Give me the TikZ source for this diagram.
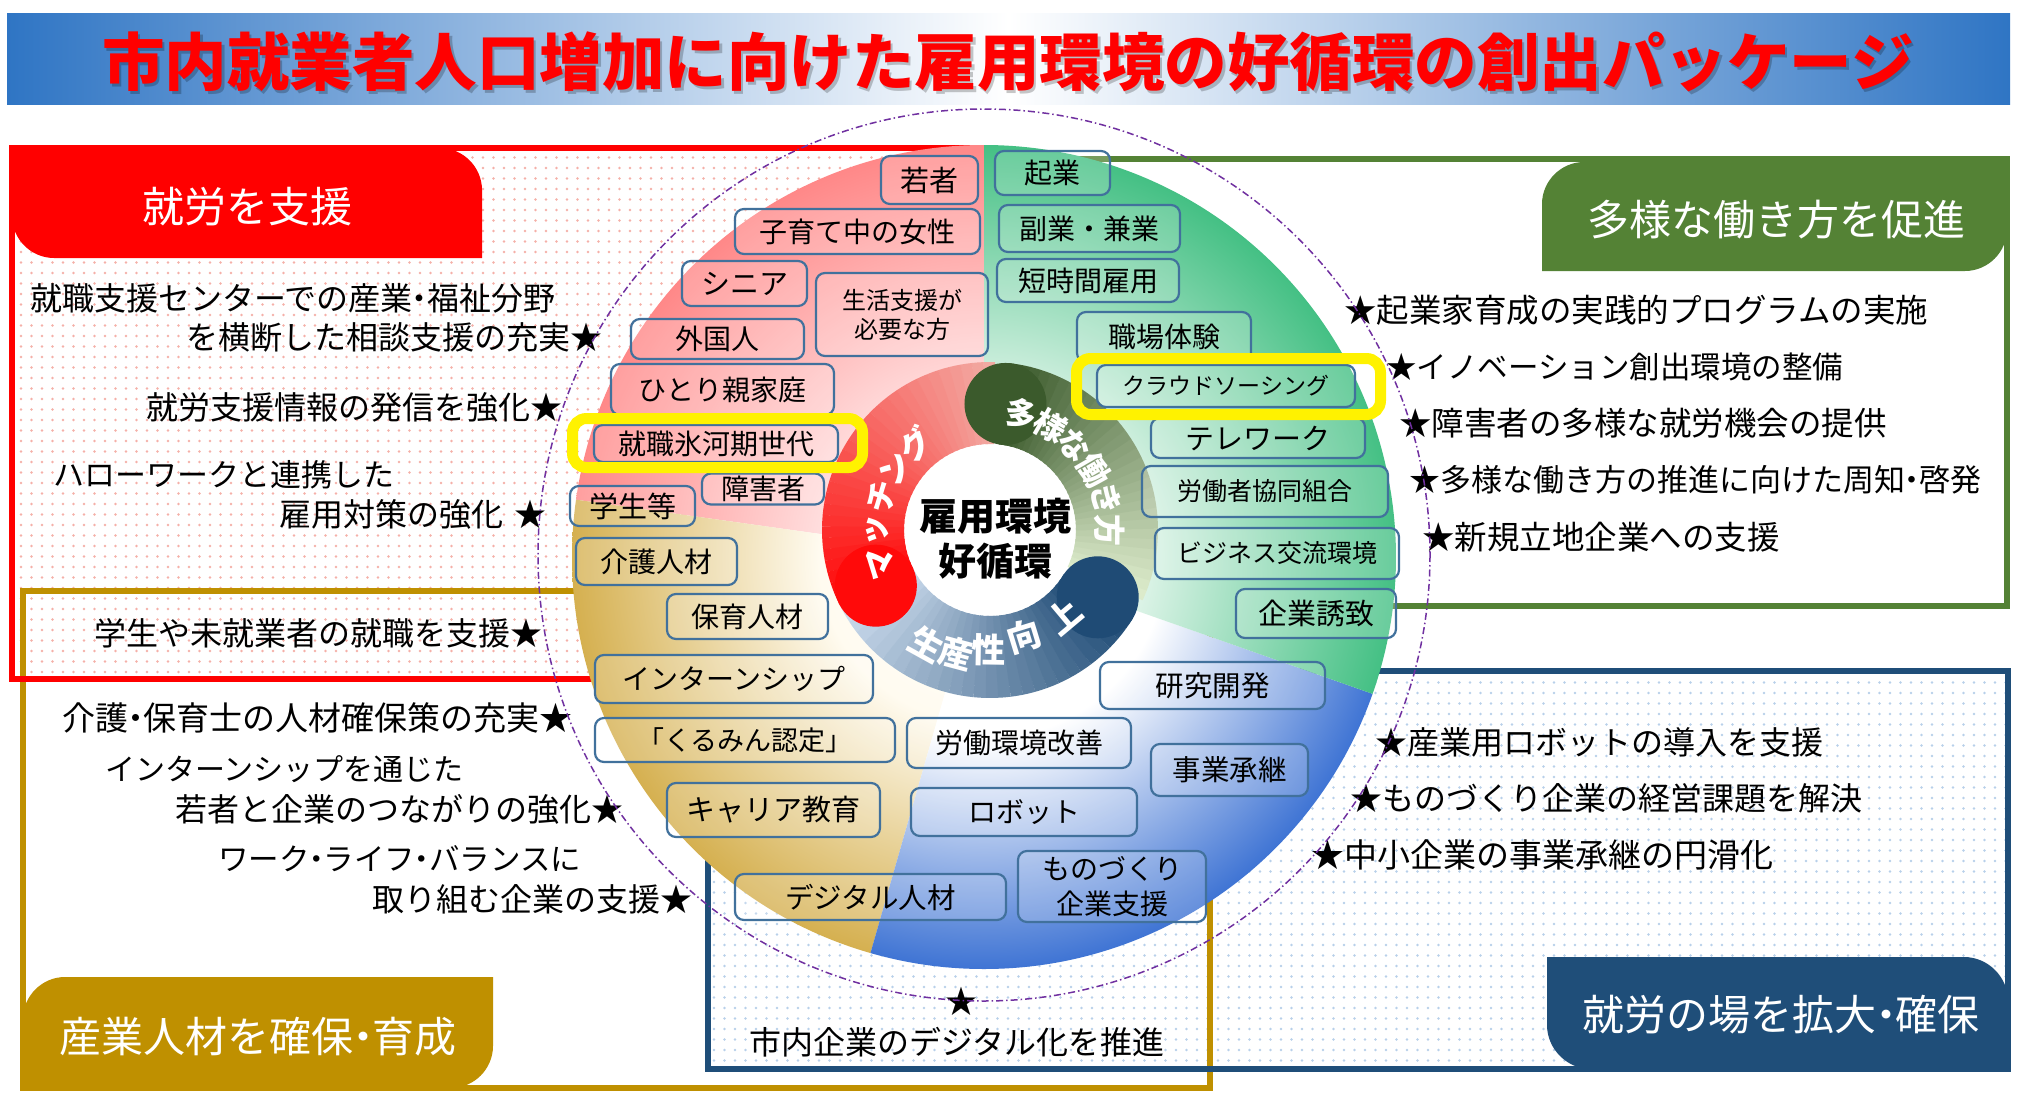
\documentclass[tikz,border=0pt]{standalone}
\usepackage{fontspec}
\setmainfont{Noto Sans CJK JP}
\usetikzlibrary{calc,patterns.meta}
\definecolor{cRed}{HTML}{FF0000}
\definecolor{cGold}{HTML}{BF9000}
\definecolor{cGreen}{HTML}{548235}
\definecolor{cBlue}{HTML}{1F4E79}
\definecolor{cTitle}{HTML}{2F75C4}
\definecolor{cBox}{HTML}{41719C}
\definecolor{cPurple}{HTML}{7030A0}
\definecolor{dotPink}{HTML}{F5B0A8}
\definecolor{dotBlue}{HTML}{B8D0EA}
\definecolor{pinkIn}{HTML}{FFE4E4}
\definecolor{pinkOut}{HTML}{FF8888}
\definecolor{goldIn}{HTML}{FFFBF0}
\definecolor{goldOut}{HTML}{D5B050}
\definecolor{blueOut}{HTML}{3F74D4}
\definecolor{greenIn}{HTML}{E4F6EC}
\definecolor{greenOut}{HTML}{44C084}
\definecolor{redTail}{HTML}{F2A9A2}
\definecolor{redHead}{HTML}{FF0A0A}
\definecolor{greenTail}{HTML}{DCEBCB}
\definecolor{greenHead}{HTML}{3B5A2C}
\definecolor{blueTail}{HTML}{D5E3F3}
\definecolor{blueHead}{HTML}{1F4B75}
\pgfdeclareradialshading{pinkrad}{\pgfpoint{0bp}{0bp}}{color(0bp)=(white); color(9bp)=(pinkIn); color(25bp)=(pinkOut); color(50bp)=(pinkOut)}
\pgfdeclareradialshading{goldrad}{\pgfpoint{0bp}{0bp}}{color(0bp)=(white); color(10bp)=(goldIn); color(25bp)=(goldOut); color(50bp)=(goldOut)}
\pgfdeclareradialshading{bluerad}{\pgfpoint{0bp}{0bp}}{color(0bp)=(white); color(11bp)=(white); color(25bp)=(blueOut); color(50bp)=(blueOut)}
\pgfdeclareradialshading{greenrad}{\pgfpoint{0bp}{0bp}}{color(0bp)=(white); color(9bp)=(greenIn); color(25bp)=(greenOut); color(50bp)=(greenOut)}
\tikzdeclarepattern{
  name=pdots,
  type=uncolored,
  bounding box={(-1.5pt,-1.5pt) and (1.5pt,1.5pt)},
  tile size={(10.5pt,10.5pt)},
  code={\fill (0pt,0pt) circle [radius=1.3pt];}
}
\newcommand\nd{\kern-0.27em・\kern-0.27em}
\newcommand\gradarc[5]{%
  \foreach \i in {1,...,#5}{%
    \pgfmathsetmacro\aa{#1+(\i-1)*(#2-#1)/#5}%
    \pgfmathsetmacro\bb{#1+\i*(#2-#1)/#5+0.6}%
    \pgfmathtruncatemacro\mixv{100*(\i-1)/(#5-1)}%
    \draw[line width=82pt, color=#4!\mixv!#3] ($(O)+(-\aa:127)$) arc[start angle=-\aa, end angle=-\bb, radius=127];
  }}
\newcommand\bxnode[7]{\node[bx, minimum width=#4pt, minimum height=#5pt, font=\fontsize{#6}{#6}\selectfont] (#1) at (#2,#3) {#7};}
\begin{document}
\begin{tikzpicture}[x=1pt,y=-1pt,
  bx/.style={draw=cBox, line width=2.2pt, rounded corners=9pt, fill=white, fill opacity=0.2, text opacity=1, inner sep=0pt},
  ftxt/.style={inner sep=0pt, text=black},
  tabtxt/.style={inner sep=0pt, text=white},
  ringtxt/.style={inner sep=0pt, text=white, font=\fontsize{32}{36}\bfseries},
  frm/.style={line width=6pt, line join=miter},
  hl/.style={draw=yellow, line width=11pt, rounded corners=14pt}
]
\useasboundingbox (0,0) rectangle (2018,1092);
\fill[white] (0,0) rectangle (2018,1092);

% title
\shade[left color=cTitle, right color=cTitle, middle color=white] (7,13) rectangle (2010,104);
\node[font=\fontsize{62.5}{70}\bfseries, text=black, opacity=0.22, inner sep=0pt] (titleshadow) at (1010.5,64.5) {市内就業者人口増加に向けた雇用環境の好循環の創出パッケージ};
\node[font=\fontsize{62.5}{70}\bfseries, text=cRed, inner sep=0pt] (title) at (1008,62) {市内就業者人口増加に向けた雇用環境の好循環の創出パッケージ};

% frame fills
\fill[pattern=pdots, pattern color=dotPink] (12,148) rectangle (975,679);
\fill[pattern=pdots, pattern color=dotBlue] (708,671) rectangle (2008,1069);

% frame borders
\draw[cGold, frm] (23,591) rectangle (1210,1088);
\draw[cRed, frm] (12,148) rectangle (975,679);
\draw[cGreen, frm] (1000,159) rectangle (2007,606);
\draw[cBlue, frm] (708,671) rectangle (2008,1069);

% tabs
\fill[cRed] (12,148) -- (440,148) .. controls (463,148) and (482,167) .. (482,190) -- (482,258) -- (54,258) .. controls (31,258) and (12,239) .. (12,216) -- cycle;
\node[tabtxt, font=\fontsize{42}{46}\selectfont] (tabred) at (247,207) {就労を支援};
\fill[cGold] (23,1019) .. controls (23,996) and (42,977) .. (65,977) -- (493,977) -- (493,1046) .. controls (493,1069) and (474,1088) .. (451,1088) -- (23,1088) -- cycle;
\node[tabtxt, font=\fontsize{42}{46}\selectfont] (tabgold) at (258,1037) {産業人材を確保\nd 育成};
\fill[cGreen] (1542,204) .. controls (1542,181) and (1561,162) .. (1584,162) -- (2007,162) -- (2007,229) .. controls (2007,252) and (1988,271) .. (1965,271) -- (1542,271) -- cycle;
\node[tabtxt, font=\fontsize{42}{46}\selectfont] (tabgreen) at (1776,220) {多様な働き方を促進};
\fill[cBlue] (1547,957) -- (1964,957) .. controls (1988,957) and (2008,977) .. (2008,1001) -- (2008,1069) -- (1591,1069) .. controls (1567,1069) and (1547,1049) .. (1547,1025) -- cycle;
\node[tabtxt, font=\fontsize{42}{46}\selectfont] (tabblue) at (1781,1015) {就労の場を拡大\nd 確保};

% left texts
\node[ftxt, anchor=west, font=\fontsize{32}{34}\selectfont] (l1) at (30,298) {就職支援センターでの産業\nd 福祉分野};
\node[ftxt, anchor=east, font=\fontsize{32}{34}\selectfont] (l2) at (603,337) {を横断した相談支援の充実★};
\node[ftxt, anchor=east, font=\fontsize{32}{34}\selectfont] (l3) at (563,407) {就労支援情報の発信を強化★};
\node[ftxt, anchor=west, font=\fontsize{31}{34}\selectfont] (l4) at (53,475) {ハローワークと連携した};
\node[ftxt, anchor=east, font=\fontsize{32}{34}\selectfont] (l5) at (547,514) {雇用対策の強化 \hspace{4pt}★};
\node[ftxt, anchor=west, font=\fontsize{32}{34}\selectfont] (l6) at (94,633) {学生や未就業者の就職を支援★};
\node[ftxt, anchor=west, font=\fontsize{33}{34}\selectfont] (l7) at (62,718) {介護\nd 保育士の人材確保策の充実★};
\node[ftxt, anchor=west, font=\fontsize{30}{34}\selectfont] (l8) at (105,769) {インターンシップを通じた};
\node[ftxt, anchor=east, font=\fontsize{32}{34}\selectfont] (l9) at (624,809) {若者と企業のつながりの強化★};
\node[ftxt, anchor=west, font=\fontsize{30.5}{34}\selectfont] (l10) at (218,859) {ワーク\nd ライフ\nd バランスに};
\node[ftxt, anchor=east, font=\fontsize{32}{34}\selectfont] (l11) at (693,899) {取り組む企業の支援★};

% right texts
\node[ftxt, anchor=west, font=\fontsize{32.5}{34}\selectfont] (r1) at (1344,310) {★起業家育成の実践的プログラムの実施};
\node[ftxt, anchor=west, font=\fontsize{30.5}{34}\selectfont] (r2) at (1386,367) {★イノベーション創出環境の整備};
\node[ftxt, anchor=west, font=\fontsize{32.5}{34}\selectfont] (r3) at (1399,423) {★障害者の多様な就労機会の提供};
\node[ftxt, anchor=west, font=\fontsize{31}{34}\selectfont] (r4) at (1409,480) {★多様な働き方の推進に向けた周知\nd 啓発};
\node[ftxt, anchor=west, font=\fontsize{32.5}{34}\selectfont] (r5) at (1422,537) {★新規立地企業への支援};

% blue frame texts
\node[ftxt, anchor=west, font=\fontsize{32}{34}\selectfont] (b1) at (1375,742) {★産業用ロボットの導入を支援};
\node[ftxt, anchor=west, font=\fontsize{32}{34}\selectfont] (b2) at (1350,798) {★ものづくり企業の経営課題を解決};
\node[ftxt, anchor=west, font=\fontsize{33}{34}\selectfont] (b3) at (1311,855) {★中小企業の事業承継の円滑化};
\node[ftxt, font=\fontsize{32}{34}\selectfont] (b4star) at (961,1001) {★};
\node[ftxt, font=\fontsize{32}{34}\selectfont] (b4) at (957,1042) {市内企業のデジタル化を推進};

% dashed circle
\draw[cPurple, line width=1.5pt, dash pattern=on 7pt off 3pt on 1.5pt off 3pt] (984,555) circle (446);

% pie
\coordinate (P) at (984,557);
\begin{scope}
\clip (P) -- ($(P)+(-90:412)$) arc[start angle=-90, end angle=-172, radius=412] -- cycle;
\shade[shading=pinkrad] (P) circle (412);
\end{scope}
\begin{scope}
\clip (P) -- ($(P)+(-172:412)$) arc[start angle=-172, end angle=-254, radius=412] -- cycle;
\shade[shading=goldrad] (P) circle (412);
\end{scope}
\begin{scope}
\clip (P) -- ($(P)+(-254:412)$) arc[start angle=-254, end angle=-340.6, radius=412] -- cycle;
\shade[shading=bluerad] (P) circle (412);
\end{scope}
\begin{scope}
\clip (P) -- ($(P)+(19.4:412)$) arc[start angle=19.4, end angle=-90, radius=412] -- cycle;
\shade[shading=greenrad] (P) circle (412);
\end{scope}

% ring
\coordinate (O) at (990,530);
\fill[white] (O) circle (88);
\gradarc{200}{328}{blueTail}{blueHead}{30}
\gradarc{88}{206}{redTail}{redHead}{30}
\fill[redHead] ($(O)+(-206:127)$) circle (41);
\gradarc{-25}{83}{greenTail}{greenHead}{30}
\fill[greenHead] ($(O)+(-83:127)$) circle (41);
\fill[blueHead] ($(O)+(-328:127)$) circle (41);

\foreach \ch/\a in {マ/197, ッ/180, チ/163, ン/147, グ/131}{
  \node[ringtxt, rotate=\a-90] at ($(O)+(-\a:113)$) {\ch};
}
\foreach \ch/\a in {多/75, 様/60, な/45, 働/30, き/15, 方/0}{
  \node[ringtxt, rotate=\a-90] at ($(O)+(-\a:120)$) {\ch};
}
\foreach \ch/\x/\y/\r in {生/927/644/-29, 産/956/653/-15, 性/989/650/-1, 向/1024/636/17, 上/1064/616/40}{
  \node[ringtxt, font=\fontsize{34}{36}\bfseries, rotate=\r] at (\x,\y) {\ch};
}
\node[font=\fontsize{38}{45}\bfseries, align=center, inner sep=0pt] (center) at (995,539) {雇用環境\\好循環};

% boxes
\bxnode{wakamono}{929.5}{180}{97}{48}{29}{若者}
\bxnode{kosodate}{857.5}{231.5}{245}{45}{28}{子育て中の女性}
\bxnode{senior}{744.5}{283.5}{125}{45}{29}{シニア}
\node[bx, minimum width=172pt, minimum height=83pt, align=center, font=\fontsize{24}{29}\selectfont] (seikatsu) at (902,314.5) {生活支援が\\必要な方};
\bxnode{gaikoku}{717.5}{339}{173}{40}{28}{外国人}
\bxnode{hitori}{722.5}{389.5}{223}{51}{28}{ひとり親家庭}
\bxnode{hyogaki}{716}{443.5}{244}{37}{28}{就職氷河期世代}
\bxnode{shogai}{763}{489}{122}{31}{28}{障害者}
\bxnode{gakusei}{632.5}{506}{125}{40}{29}{学生等}
\bxnode{kaigo}{656.5}{561.5}{161}{47}{28}{介護人材}
\bxnode{hoiku}{747.5}{616.5}{161}{45}{28}{保育人材}
\bxnode{intern}{734}{679}{278}{48}{28}{インターンシップ}
\bxnode{kurumin}{745}{740}{300}{44}{27}{「くるみん認定」}
\bxnode{career}{773.5}{810}{213}{54}{29}{キャリア教育}
\bxnode{digital}{870.5}{897}{271}{46}{28.5}{デジタル人材}
\bxnode{kenkyu}{1212.5}{685.5}{225}{47}{28.5}{研究開発}
\bxnode{rodo}{1019}{743}{224}{50}{28}{労働環境改善}
\bxnode{jigyo}{1229.5}{770}{157}{52}{28.5}{事業承継}
\bxnode{robot}{1024}{812}{226}{48}{28}{ロボット}
\node[bx, minimum width=188pt, minimum height=71pt, align=center, font=\fontsize{28}{35}\selectfont] (monozukuri) at (1112,886.5) {ものづくり\\企業支援};
\bxnode{kigyo}{1052.5}{173}{115}{44}{28}{起業}
\bxnode{fukugyo}{1089.5}{228.5}{181}{47}{28}{副業・兼業}
\bxnode{tanjikan}{1088}{280.5}{182}{43}{28}{短時間雇用}
\bxnode{shokuba}{1164}{337}{174}{50}{28}{職場体験}
\bxnode{telework}{1258}{438}{214}{40}{29}{テレワーク}
\bxnode{crowd}{1226}{386}{258}{42}{23}{クラウドソーシング}
\bxnode{kyodo}{1265}{491.5}{246}{51}{25}{労働者協同組合}
\bxnode{business}{1277}{553.5}{244}{51}{25}{ビジネス交流環境}
\bxnode{yuchi}{1316}{613.5}{160}{49}{29}{企業誘致}

% yellow highlights
\draw[hl] (572.5,418.5) rectangle (862.5,467.5);
\draw[hl] (1076.5,358.5) rectangle (1380.5,414.5);
\end{tikzpicture}
\end{document}
